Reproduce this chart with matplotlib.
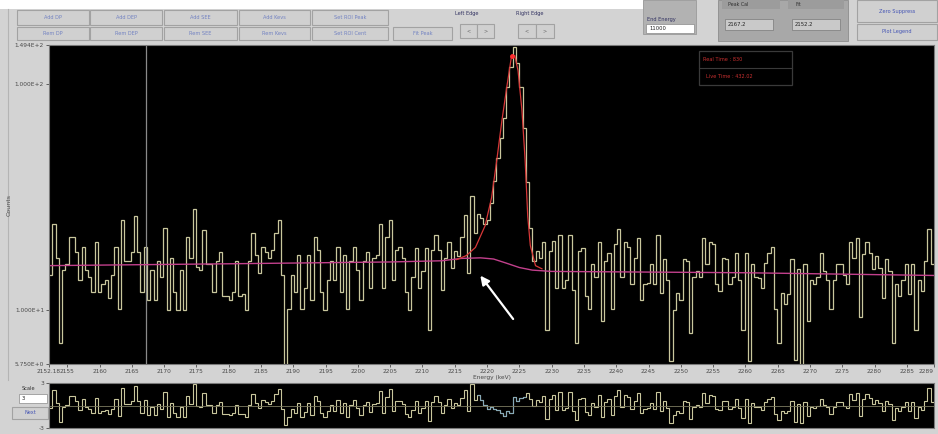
""" Gamma spectrum fit view: histogram around 2224 keV with peak fit,
step background and residual strip, redrawn as a screenshot of the GUI.
"""

import numpy as np
import matplotlib
matplotlib.use("Agg")
import matplotlib.pyplot as plt
from matplotlib.patches import Rectangle
from matplotlib.ticker import NullLocator


# energy window (keV) and marker line
E_START = 2152.18
E_END = 2289.2
MARKER_E = 2167.2

# counts per bin left to right
counts_a = [14.2, 24, 17, 7.1, 15, 16, 21, 21, 18, 13.5, 19, 15, 14, 12, 20, 12, 13, 13.5,
            11.3, 14.2, 19, 10.1, 25, 16.5, 16.5, 18, 26, 18, 12, 19, 11, 15, 11, 16.5, 14, 23,
            10, 17, 12, 10, 15, 10, 21, 17, 28, 15.5, 15, 22.5, 16, 16, 12, 16.5, 18, 11.5,
            11.5, 11]
counts_b = [12, 16.5, 11.5, 11.7, 10, 16.5, 22, 17.5, 14.5, 19, 18, 17, 18.5, 22, 25, 14.2,
            5.5, 10.1, 14.2, 12, 17.5, 10.1, 12.5, 17.5, 11, 21, 18.5, 12, 10, 13.5, 16.5, 13.5,
            19, 12, 17.5, 10.1, 16.5, 19, 15, 11, 16.5, 18, 12.5, 17, 17.5, 24, 12.5, 21, 25,
            13.5, 18.5, 19, 17, 12, 10]
counts_pre = [14, 18.8, 12.5, 14.9, 18.8, 8.1, 18.5, 21.5, 18.5, 12.2, 16.9, 20, 15.4, 18.3,
              17.4]
counts_peak = [21, 26.2, 14.5, 32, 22, 26.7, 25.6, 24.1, 24.9, 29.9, 37.4, 47.3, 58, 71, 97,
               119, 147, 124, 97, 64, 37, 23]
counts_post = [16.5, 18.3, 16.9, 20, 8.1, 18.3, 20.2, 12.5, 21.5, 12.5, 13.5, 21.5, 12.2, 7.1,
               18.3, 18.8]
counts_d = [11.5, 10.1, 16, 14, 20, 8.9, 16.5, 17.9, 10.1, 19.5, 22.8, 14, 20, 18.9, 13, 17,
            20.9, 11, 13, 13.2, 16, 13, 21.5, 11.9, 16.8, 13.5, 5.9, 10, 11.9, 11, 16.8, 16.5,
            7.9, 14, 14.9, 14, 20.9, 16, 20, 19.5, 13, 12.1, 17, 16.8, 13, 14, 17.9, 13.5, 8.1,
            17.9, 5.9, 16, 14]
counts_e = [13.8, 12.5, 16.2, 17.9, 18.9, 10.1, 7.1, 11.9, 10.6, 11.7, 16.8, 6.0, 15.2, 5.6,
            16, 8.9, 13.5, 13, 14, 17.9, 14.9, 13.5, 10.1, 13.5, 16, 16, 14.2, 13, 20, 17, 20.9,
            9.3, 17.6, 20, 17.9, 15.2, 17.3, 15.4, 11.3, 16.8, 14.9, 7.1, 13, 11.5, 13.5, 16,
            11.7, 16, 8.1, 13.5, 12.1, 16.5, 22.8, 16]

# step background (magenta) and peak fit (red)
bg_energy = [2152.18, 2180, 2205, 2213, 2216, 2219, 2221, 2223, 2225, 2227, 2230, 2260, 2289.2]
bg_counts = [15.7, 16.0, 16.3, 16.5, 16.9, 17.0, 16.8, 16.1, 15.4, 15.0, 14.8, 14.6, 14.2]
fit_energy = [2215.3, 2216.8, 2218.2, 2219.7, 2220.7, 2221.5, 2222.3, 2223.1, 2223.8, 2224.3,
              2224.8, 2225.4, 2225.9, 2226.3, 2226.7, 2227.5, 2228.5]
fit_counts = [16.7, 17.4, 18.9, 23.6, 31.4, 45.9, 69, 99, 134, 134, 115, 77, 46, 26, 19.3,
              15.7, 15.2]

y_ticks = [5.75, 10, 100, 149.4]
y_labels = ["5.750E+0", "1.000E+1", "1.000E+2", "1.494E+2"]
x_ticks = [2152.18] + list(range(2155, 2290, 5)) + [2289.2]
x_labels = ["2152.18"] + [str(v) for v in range(2155, 2290, 5)] + ["2289"]

W, H = 938, 434
GUI_GRAY = "#d3d3d3"
HIST = "#c9c79d"
TICK = "#4a4a4a"


def px_axes(fig, left, top, right, bottom):
    # axes placed by screenshot pixel box
    return fig.add_axes([left / W, 1 - bottom / H, (right - left) / W, (bottom - top) / H])


def button(ax, x, y, w, h, label, color="#7282c2"):
    ax.add_patch(Rectangle((x, y), w, h, facecolor="#d0d0d0", edgecolor="#a2a2a2", lw=0.8))
    ax.text(x + w / 2, y + h / 2, label, ha="center", va="center", fontsize=3.6, color=color)


def main():
    counts = np.array(counts_a + counts_b + counts_pre + counts_peak + counts_post
                      + counts_d + counts_e)
    edges = np.linspace(E_START, E_END, len(counts) + 1)
    centers = 0.5 * (edges[:-1] + edges[1:])

    fig = plt.figure(figsize=(W / 100, H / 100), dpi=100, facecolor=GUI_GRAY)

    # ---- GUI chrome (pixel coordinates, y down)
    gui = fig.add_axes([0, 0, 1, 1], zorder=0)
    gui.set_xlim(0, W)
    gui.set_ylim(H, 0)
    gui.axis("off")
    gui.add_patch(Rectangle((0, 0), 643, 9, facecolor="white", edgecolor="none"))
    gui.plot([8, 8], [9, 380], color="#b4b4b4", lw=0.8)

    row1 = ["Add DP", "Add DEP", "Add SEE", "Add Kevs", "Set ROI Peak"]
    row2 = ["Rem DP", "Rem DEP", "Rem SEE", "Rem Kevs", "Set ROI Cent"]
    cols = [(17, 72), (90, 72), (164, 73), (239, 71), (312, 76)]
    for (x, w), a, b in zip(cols, row1, row2):
        button(gui, x, 10, w, 15, a)
        button(gui, x, 27, w, 13, b)
    button(gui, 393, 27, 59, 13, "Fit Peak")

    gui.text(467, 13, "Left Edge", ha="center", va="center", fontsize=3.6, color="#303060")
    gui.text(530, 13, "Right Edge", ha="center", va="center", fontsize=3.6, color="#303060")
    button(gui, 460, 24, 17, 14, "<", color="#6a6a6a")
    button(gui, 477, 24, 17, 14, ">", color="#6a6a6a")
    button(gui, 518, 24, 18, 14, "<", color="#6a6a6a")
    button(gui, 536, 24, 18, 14, ">", color="#6a6a6a")

    gui.add_patch(Rectangle((643, 0), 53, 34, facecolor="#b2b2b2", edgecolor="#9a9a9a", lw=0.6))
    gui.text(647, 19, "End Energy", ha="left", va="center", fontsize=3.6, color="#303060")
    gui.add_patch(Rectangle((646, 24), 48, 9, facecolor="white", edgecolor="#8a8a8a", lw=0.5))
    gui.text(649, 28.5, "11000", ha="left", va="center", fontsize=3.8, color="#202020")

    gui.add_patch(Rectangle((718, 0), 130, 41, facecolor="#a8a8a8", edgecolor="#8c8c8c", lw=0.6))
    gui.add_patch(Rectangle((722, 0), 58, 9, facecolor="#9c9c9c", edgecolor="none"))
    gui.add_patch(Rectangle((788, 0), 56, 9, facecolor="#9c9c9c", edgecolor="none"))
    gui.text(728, 4, "Peak Cal", ha="left", va="center", fontsize=3.4, color="#303030")
    gui.text(795, 4, "Fit", ha="left", va="center", fontsize=3.4, color="#303030")
    for x, val in [(725, "2167.2"), (792, "2152.2")]:
        gui.add_patch(Rectangle((x, 19), 48, 11, facecolor="#c9c9c9", edgecolor="#7a7a7a", lw=0.5))
        gui.text(x + 3, 24.5, val, ha="left", va="center", fontsize=3.8, color="#202020")

    button(gui, 857, 0, 80, 22, "Zero Suppress", color="#4454b4")
    button(gui, 857, 24, 80, 16, "Plot Legend", color="#4454b4")

    gui.text(28, 389, "Scale", ha="center", va="center", fontsize=3.6, color="#303030")
    gui.add_patch(Rectangle((19, 394), 28, 9, facecolor="white", edgecolor="#8a8a8a", lw=0.5))
    gui.text(22, 398.5, "3", ha="left", va="center", fontsize=3.8, color="#202020")
    button(gui, 12, 407, 36, 12, "Next", color="#4454b4")

    # ---- main spectrum
    ax = px_axes(fig, 49, 45, 934, 364)
    ax.set_zorder(1)
    ax.set_facecolor("black")
    ax.stairs(counts, edges, color=HIST, lw=0.9, baseline=None)
    ax.axvline(MARKER_E, color="#8a8a8a", lw=0.9)
    ax.plot(bg_energy, bg_counts, color="#c2408c", lw=1.0)
    ax.plot(fit_energy, fit_counts, color="#d83838", lw=0.9)
    ax.plot(fit_energy[8], fit_counts[8], "o", color="#ff3030", ms=2.5)

    ax.set_yscale("log")
    ax.set_xlim(E_START, E_END)
    ax.set_ylim(y_ticks[0], y_ticks[-1])
    ax.set_yticks(y_ticks)
    ax.set_yticklabels(y_labels)
    ax.yaxis.set_minor_locator(NullLocator())
    ax.set_xticks(x_ticks)
    ax.set_xticklabels(x_labels)
    ax.get_xticklabels()[-1].set_horizontalalignment("right")
    ax.tick_params(axis="both", labelsize=4.2, colors=TICK, length=2, width=0.6, pad=1.5)
    ax.set_xlabel("Energy (keV)", fontsize=4.2, color=TICK, labelpad=1)
    ax.set_ylabel("Counts", fontsize=4.5, color=TICK)
    ax.yaxis.set_label_coords(-37 / 885, 0.5)
    for s in ax.spines.values():
        s.set_color("#7a7a7a")
        s.set_linewidth(0.8)

    # info box
    ax.add_patch(Rectangle((0.734, 0.876), 0.105, 0.106, transform=ax.transAxes,
                           facecolor="black", edgecolor="#3a3a3a", lw=0.9))
    ax.plot([0.734, 0.839], [0.929, 0.929], transform=ax.transAxes, color="#3a3a3a", lw=0.8)
    ax.text(0.739, 0.955, "Real Time : 830", transform=ax.transAxes, fontsize=3.6,
            color="#c83030", va="center")
    ax.text(0.742, 0.900, "Live Time : 432.02", transform=ax.transAxes, fontsize=3.6,
            color="#c83030", va="center")

    # arrow pointing at the background step
    ax.annotate("", xy=(2218.7, 14.5), xytext=(2224.3, 8.9),
                arrowprops=dict(arrowstyle="-|>", color="white", lw=1.6, mutation_scale=13))

    # ---- residual strip
    model = np.interp(centers, bg_energy, bg_counts)
    in_fit = (centers > fit_energy[0]) & (centers < fit_energy[-1])
    model[in_fit] = np.interp(centers[in_fit], fit_energy, fit_counts)
    resid = np.clip((counts - model) / np.sqrt(model), -2.9, 2.9)

    rx = px_axes(fig, 49, 383, 934, 428)
    rx.set_zorder(1)
    rx.set_facecolor("black")
    rx.axhline(0, color="#7c7a60", lw=0.6)
    rx.stairs(resid, edges, color=HIST, lw=0.8, baseline=None)
    fit_bins = np.where((centers > 2218.5) & (centers < 2226))[0]
    rx.stairs(resid[fit_bins], edges[fit_bins[0]:fit_bins[-1] + 2], color="#86a9b8", lw=0.8,
              baseline=None)
    rx.set_xlim(E_START, E_END)
    rx.set_ylim(-3, 3)
    rx.set_yticks([-3, 3])
    rx.set_yticklabels(["-3", "3"])
    rx.set_xticks([])
    rx.tick_params(axis="y", labelsize=4.2, colors=TICK, length=2, width=0.6, pad=1.5)
    for s in rx.spines.values():
        s.set_color("#7a7a7a")
        s.set_linewidth(0.8)

    fig.savefig("out.png", dpi=100, facecolor=GUI_GRAY)


if __name__ == "__main__":
    main()
